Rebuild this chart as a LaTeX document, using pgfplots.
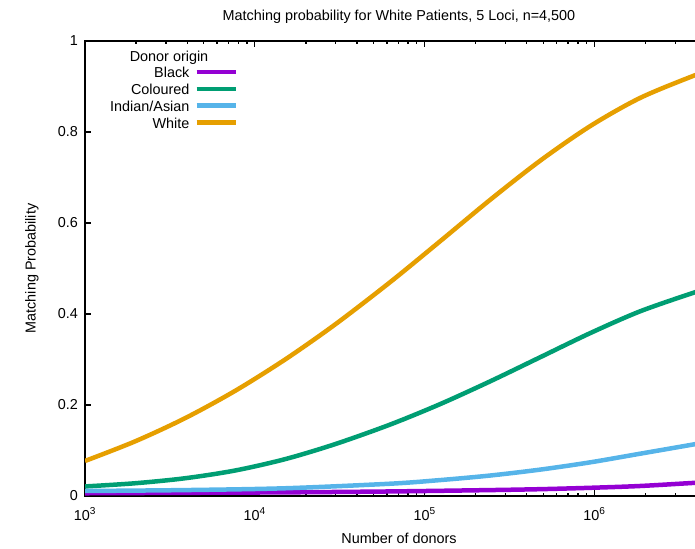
\documentclass[border=0pt]{standalone}
\usepackage{pgfplots}
\pgfplotsset{compat=1.18}
\usepackage{fontspec}
\setmainfont{Liberation Sans}
\definecolor{cblack}{HTML}{9400D3}
\definecolor{ccol}{HTML}{009E73}
\definecolor{cind}{HTML}{56B4E9}
\definecolor{cwhite}{HTML}{E69F00}
\begin{document}
\fontsize{14.4bp}{17bp}\selectfont
\begin{tikzpicture}
\useasboundingbox (0bp,0bp) rectangle (695bp,549bp);
\clip (0bp,0bp) rectangle (695bp,549bp);
\begin{axis}[
  at={(85bp,53bp)}, anchor=south west,
  width=628bp, height=455bp, scale only axis,
  xmode=log, xmin=1000, xmax=5000000, ymin=0, ymax=1,
  /pgf/number format/assume math mode=true,
  xtick={1000,10000,100000,1000000},
  xticklabels={10\textsuperscript{3},10\textsuperscript{4},10\textsuperscript{5},10\textsuperscript{6}},
  minor xtick={2000,3000,4000,5000,6000,7000,8000,9000,20000,30000,40000,50000,60000,70000,80000,90000,200000,300000,400000,500000,600000,700000,800000,900000,2000000,3000000,4000000},
  ytick={0,0.2,0.4,0.6,0.8,1},
  yticklabels={0,0.2,0.4,0.6,0.8,1},
  tick align=inside,
  major tick length=6.5bp, minor tick length=3.5bp,
  every tick/.style={black, line width=1.3bp},
  axis line style={line width=1.8bp},
  xticklabel style={anchor=base, yshift=-24bp, inner sep=0pt},
  yticklabel style={anchor=east, xshift=-7bp, inner sep=0pt},
  title={Matching probability for White Patients, 5 Loci, n=4,500},
  xlabel={Number of donors},
  ylabel={Matching Probability},
  every axis title/.style={at={(axis description cs:0.5,1.044)}, anchor=base},
  every axis x label/.style={at={(axis description cs:0.5,-0.1044)}, anchor=base},
  every axis y label/.style={at={(axis description cs:-0.0788,0.5)}, rotate=90, anchor=base},
  legend style={draw=none, fill=none, at={(axis description cs:0.0398,0.9423)}, anchor=north west, inner sep=0pt, row sep=3.2bp, column sep=5bp, nodes={inner sep=0pt, text height=10.5bp, text depth=3bp}},
  legend cell align=right,
  legend plot pos=right,
  legend image code/.code={\draw[#1, line width=4.5bp] (0bp,2bp) -- (39bp,2bp);},
]
\addplot[cblack, line width=4.5bp, smooth, no marks] table {
x y
1000 0.006
3885 0.007
15087 0.008
62700 0.010
243500 0.013
480000 0.015
946000 0.018
1864000 0.022
3932000 0.029
5000000 0.031
};
\addlegendentry{Black}
\addplot[ccol, line width=4.5bp, smooth, no marks] table {
x y
1000 0.021
1971 0.028
3885 0.039
7655 0.056
15087 0.081
29730 0.114
62700 0.157
123600 0.202
243500 0.252
480000 0.305
946000 0.358
1864000 0.406
3932000 0.448
5000000 0.459
};
\addlegendentry{Coloured}
\addplot[cind, line width=4.5bp, smooth, no marks] table {
x y
1000 0.011
3885 0.013
15087 0.017
62700 0.027
123600 0.035
243500 0.045
480000 0.058
946000 0.074
1864000 0.093
3932000 0.114
5000000 0.121
};
\addlegendentry{Indian/Asian}
\addplot[cwhite, line width=4.5bp, smooth, no marks] table {
x y
1000 0.077
1971 0.120
3885 0.171
7655 0.231
15087 0.300
29730 0.377
62700 0.470
123600 0.560
243500 0.651
480000 0.737
946000 0.813
1864000 0.875
3932000 0.925
5000000 0.937
};
\addlegendentry{White}
\node[anchor=base] at (axis description cs:0.1338,0.956) {Donor origin};
\end{axis}
\end{tikzpicture}
\end{document}
